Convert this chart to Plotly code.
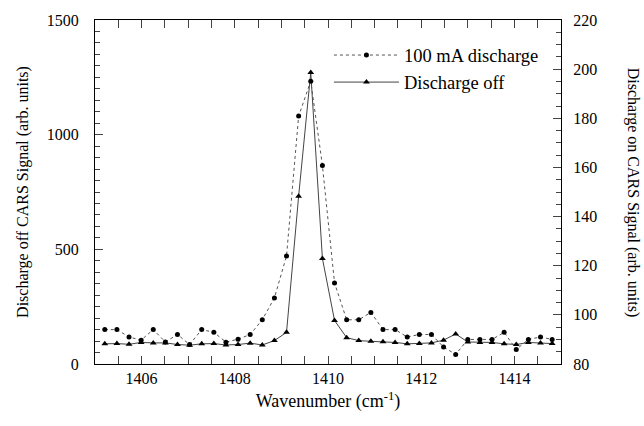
import plotly.graph_objects as go

wavenumber = [1405.21, 1405.47, 1405.73, 1405.99, 1406.25, 1406.51, 1406.77, 1407.03,
              1407.29, 1407.55, 1407.81, 1408.07, 1408.33, 1408.59, 1408.85, 1409.11,
              1409.37, 1409.63, 1409.88, 1410.14, 1410.40, 1410.66, 1410.92, 1411.18,
              1411.44, 1411.70, 1411.96, 1412.22, 1412.48, 1412.74, 1413.00, 1413.26,
              1413.52, 1413.78, 1414.04, 1414.30, 1414.56, 1414.81]

discharge_off = [88, 89, 86, 94, 92, 92, 85, 82, 88, 89, 83, 85, 91, 83, 102, 138,
                 732, 1271, 460, 190, 115, 102, 99, 97, 94, 88, 89, 92, 104, 131,
                 96, 94, 94, 88, 85, 94, 92, 89]

discharge_on = [94.0, 94.0, 91.0, 89.7, 94.0, 89.0, 92.0, 87.9, 94.0, 92.9, 88.9, 90.1,
                92.0, 98.0, 106.9, 124.0, 180.9, 195.1, 160.8, 113.0, 98.0, 98.0, 101.0,
                94.0, 94.0, 91.0, 92.0, 92.0, 86.9, 83.9, 90.0, 90.0, 90.0, 92.9, 85.9,
                90.0, 91.0, 90.0]

FONT = "Liberation Serif"

fig = go.Figure()
fig.add_trace(go.Scatter(
    x=wavenumber, y=discharge_on, yaxis="y2", name="100 mA discharge",
    mode="lines+markers",
    line=dict(color="#555555", width=1, dash="dot"),
    marker=dict(symbol="circle", size=5, color="black"),
))
fig.add_trace(go.Scatter(
    x=wavenumber, y=discharge_off, name="Discharge off",
    mode="lines+markers",
    line=dict(color="#444444", width=1),
    marker=dict(symbol="triangle-up", size=6, color="black"),
))

axis_common = dict(showline=True, linecolor="black", linewidth=1, showgrid=False,
                   zeroline=False, tickfont=dict(family=FONT, size=16, color="black"),
                   ticks="inside", tickcolor="#444444", ticklen=8, tickwidth=1)

fig.update_layout(
    width=644, height=426,
    margin=dict(l=95, r=83, t=17, b=62),
    paper_bgcolor="white", plot_bgcolor="white",
    font=dict(family=FONT, size=16, color="black"),
    showlegend=True,
    legend=dict(x=0.502, y=0.952, xanchor="left", yanchor="top",
                bgcolor="rgba(0,0,0,0)", font=dict(family=FONT, size=18.5),
                itemwidth=65, tracegroupgap=0),
    xaxis=dict(range=[1405, 1415], tickmode="linear", tick0=1406, dtick=2,
               mirror="allticks",
               minor=dict(tick0=1405, dtick=0.5, ticks="inside", ticklen=5, tickcolor="#444444"),
               title=dict(text="Wavenumber (cm<sup>-1</sup>)", font=dict(family=FONT, size=18), standoff=8),
               **axis_common),
    yaxis=dict(range=[0, 1500], tickmode="linear", tick0=0, dtick=500,
               minor=dict(tick0=0, dtick=50, ticks="inside", ticklen=5, tickcolor="#444444"),
               ticklabelstandoff=12,
               title=dict(text="Discharge off CARS Signal (arb. units)", font=dict(family=FONT, size=16), standoff=14),
               **axis_common),
    yaxis2=dict(range=[80, 220], overlaying="y", side="right", tickmode="linear", tick0=80, dtick=20,
                minor=dict(tick0=80, dtick=5, ticks="inside", ticklen=5, tickcolor="#444444"),
                ticklabelstandoff=8,
                **axis_common),
    annotations=[dict(text="Discharge on CARS Signal (arb. units)", textangle=90,
                      xref="paper", yref="paper", x=1.155, y=0.5, showarrow=False,
                      font=dict(family=FONT, size=16, color="black"),
                      xanchor="center", yanchor="middle")],
)

fig.write_html("out.html")
